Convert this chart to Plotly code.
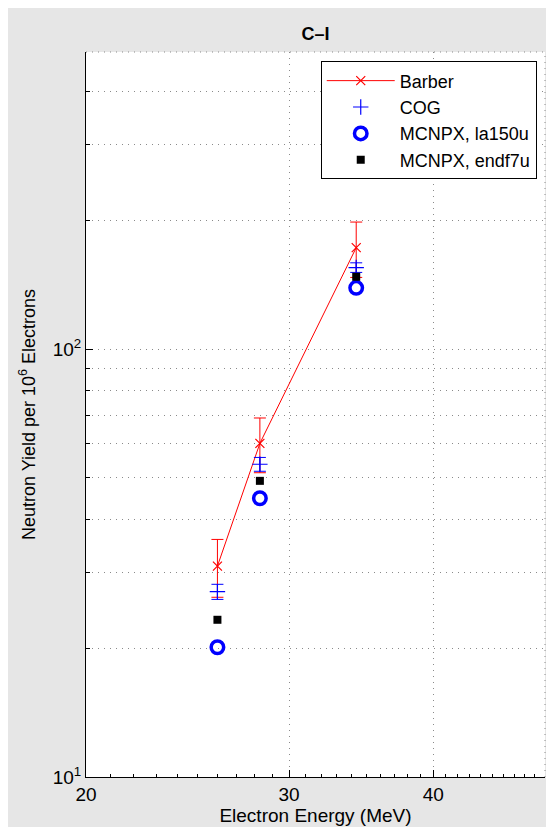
import plotly.graph_objects as go

# ---- data ----
energy = [26.0, 28.3, 34.3]                 # electron energy, MeV
barber = [31.1, 60.2, 172.5]
barber_err = [4.8, 8.8, 25.5]
cog = [27.1, 53.8, 155.0]
cog_err = [1.1, 2.0, 4.0]
mcnpx_la150u = [20.1, 44.8, 139.0]
mcnpx_endf7u = [23.3, 49.2, 147.5]

x_major = [20, 30, 40]
x_major_text = ["20", "30", "40"]
x_minor = [21, 22, 23, 24, 25, 26, 27, 28, 29, 31, 32, 33, 34, 35, 36, 37, 38, 39,
           41, 42, 43, 44, 45, 46, 47, 48, 49]
y_major = [10, 100]
y_major_text = ["10<sup>1</sup>", "10<sup>2</sup>"]
y_minor = [20, 30, 40, 50, 60, 70, 80, 90, 200, 300, 400]

FONT = "Liberation Sans, Arial, Helvetica, sans-serif"
GRID = "#8a8a8a"
DOT = "1px,5px"

fig = go.Figure()
fig.add_trace(go.Scatter(
    x=energy, y=barber, name="Barber", mode="lines+markers",
    line=dict(color="#ff0000", width=1),
    marker=dict(symbol="x-thin", size=9, line=dict(color="#ff0000", width=1.2)),
    error_y=dict(type="data", array=barber_err, color="#ff0000", thickness=1, width=6),
))
fig.add_trace(go.Scatter(
    x=energy, y=cog, name="COG", mode="markers",
    marker=dict(symbol="cross-thin", size=11, line=dict(color="#0000ff", width=1.2)),
    error_y=dict(type="data", array=cog_err, color="#0000ff", thickness=1, width=6),
))
fig.add_trace(go.Scatter(
    x=energy, y=mcnpx_la150u, name="MCNPX, la150u", mode="markers",
    marker=dict(symbol="circle-open", size=12.5, color="#0000ff", line=dict(color="#0000ff", width=3.5)),
))
fig.add_trace(go.Scatter(
    x=energy, y=mcnpx_endf7u, name="MCNPX, endf7u", mode="markers",
    marker=dict(symbol="square", size=8, color="#000000"),
))

fig.update_layout(
    width=554, height=827,
    margin=dict(l=78, r=17, t=44, b=58),
    paper_bgcolor="#e6e6e6", plot_bgcolor="#ffffff",
    font=dict(family=FONT, size=18, color="#000000"),
    title=dict(text="<b>C–I</b>", x=0.5, xref="paper", xanchor="center",
               y=1 - 25.5 / 827, yanchor="middle", font=dict(family=FONT, size=18)),
    showlegend=True,
    legend=dict(x=0.982, xanchor="right", y=0.987, yanchor="top",
                bgcolor="#ffffff", bordercolor="#000000", borderwidth=1,
                font=dict(family=FONT, size=18), itemwidth=68, tracegroupgap=0),
    xaxis=dict(
        type="log", range=[1.30103, 1.69897], automargin=False,
        tickmode="array", tickvals=x_major, ticktext=x_major_text,
        tickfont=dict(family=FONT, size=19),
        showline=True, linecolor="#000000", linewidth=1,
        ticks="inside", ticklen=7, tickcolor="#000000",
        showgrid=True, gridcolor=GRID, griddash=DOT, gridwidth=1,
        minor=dict(tickmode="array", tickvals=x_minor, ticks="inside", ticklen=3,
                   tickcolor="#000000", showgrid=False),
        title=dict(text="Electron Energy (MeV)", standoff=3,
                   font=dict(family=FONT, size=19)),
        zeroline=False,
    ),
    yaxis=dict(
        type="log", range=[1, 2.694], automargin=False,
        tickmode="array", tickvals=y_major, ticktext=y_major_text,
        tickfont=dict(family=FONT, size=19),
        showline=True, linecolor="#000000", linewidth=1,
        ticks="inside", ticklen=7, tickcolor="#000000",
        showgrid=True, gridcolor=GRID, griddash=DOT, gridwidth=1,
        minor=dict(tickmode="array", tickvals=y_minor, ticks="inside", ticklen=4,
                   tickcolor="#000000", showgrid=True, gridcolor=GRID,
                   griddash=DOT, gridwidth=1),
        title=dict(text="Neutron Yield per 10<sup>6</sup> Electrons", standoff=12,
                   font=dict(family=FONT, size=18)),
        zeroline=False,
    ),
    shapes=[
        dict(type="line", xref="paper", yref="paper", x0=0, x1=1, y0=1, y1=1,
             line=dict(color=GRID, width=1, dash=DOT)),
        dict(type="line", xref="paper", yref="paper", x0=1, x1=1, y0=0, y1=1,
             line=dict(color=GRID, width=1, dash=DOT)),
    ],
)

fig.write_html("out.html")
